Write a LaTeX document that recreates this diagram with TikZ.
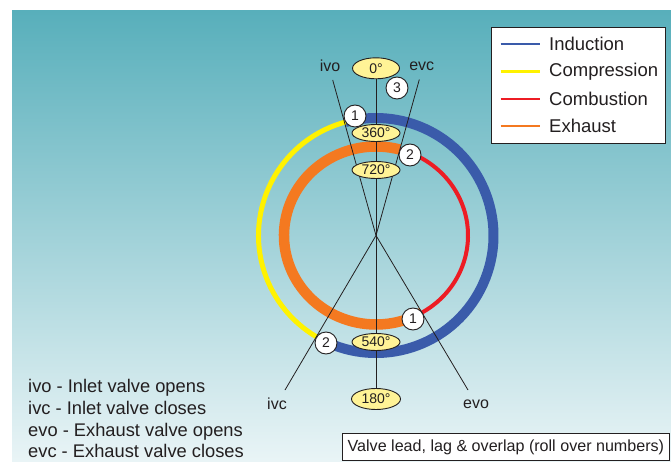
\documentclass[tikz,border=0pt]{standalone}
\usepackage{fontspec}
\setmainfont{Liberation Sans}
\usetikzlibrary{shapes.geometric,calc}
\definecolor{indblue}{RGB}{58,91,170}
\definecolor{compyellow}{RGB}{255,242,0}
\definecolor{combred}{RGB}{237,28,36}
\definecolor{exorange}{RGB}{244,121,32}
\definecolor{bgtop}{RGB}{88,175,187}
\definecolor{bgbot}{RGB}{233,244,246}
\definecolor{degfill}{RGB}{255,243,150}
\definecolor{txt}{RGB}{35,31,32}
\pgfdeclarelayer{bg}
\pgfsetlayers{bg,main}
\begin{document}
\begin{tikzpicture}[x=1pt,y=1pt,
  deg/.style={ellipse, draw=txt, line width=0.9pt, fill=degfill, inner sep=0pt,
    minimum width=48pt, minimum height=17pt, font=\fontsize{14}{14}\selectfont, text=txt},
  bigdeg/.style={deg, minimum width=47pt, minimum height=21pt},
  num/.style={circle, draw=txt, line width=0.9pt, fill=white, minimum size=22pt,
    inner sep=0pt, font=\fontsize{14}{14}\selectfont, text=txt},
  conn/.style={draw=txt, line width=0.8pt},
  lbl/.style={font=\fontsize{16}{16}\selectfont, text=txt, inner sep=0pt},
  legtxt/.style={anchor=west, font=\fontsize{18.5}{18.5}\selectfont, text=txt, inner sep=0pt},
  legline/.style={line width=2.7pt},
  note/.style={anchor=base west, font=\fontsize{18.3}{18.3}\selectfont, text=txt, inner sep=0pt}
]
\useasboundingbox (0,0) rectangle (671,461);

% centre and line end points
\coordinate (c) at (376,225.5);
\coordinate (ivoend) at (332.7,381);
\coordinate (evcend) at (419.3,381.5);
\coordinate (ivcend) at (285,71);
\coordinate (evoend) at (468,71);

% degree ellipses
\node[bigdeg] (d0) at (376,392.7) {0°};
\node[deg] (d360) at (376,328) {360°};
\node[deg] (d720) at (376,291) {720°};
\node[deg] (d540) at (376,119) {540°};
\node[bigdeg, minimum width=49pt] (d180) at (376,62) {180°};

% numbered circles
\node[num] (n1a) at (355,345) {1};
\node[num] (n2a) at (410,306) {2};
\node[num] (n3) at (397,373) {3};
\node[num] (n1b) at (413,142) {1};
\node[num] (n2b) at (326,118) {2};

% valve labels
\node[lbl] (ivo) at (330,395) {ivo};
\node[lbl] (evc) at (421.7,395) {evc};
\node[lbl] (ivc) at (277,57) {ivc};
\node[lbl] (evo) at (476,57) {evo};

% legend
\node[draw=txt, line width=0.8pt, fill=white, minimum width=174pt, minimum height=116.3pt,
  inner sep=0pt, anchor=north west] (legend) at (491,434.3) {};
\node[legtxt] (lind) at (549,417) {Induction};
\node[legtxt] (lcomp) at (549,389.3) {Compression};
\node[legtxt] (lcomb) at (549,362) {Combustion};
\node[legtxt] (lexh) at (549,335) {Exhaust};
\draw[legline, indblue] (500.7,417) -- (540,417);
\draw[legline, compyellow] (500.7,389.3) -- (540,389.3);
\draw[legline, combred] (500.7,362) -- (540,362);
\draw[legline, exorange] (500.7,335) -- (540,335);

% abbreviations
\node[note] (t1) at (28,69) {ivo - Inlet valve opens};
\node[note] (t2) at (28,47) {ivc - Inlet valve closes};
\node[note] (t3) at (28,25) {evo - Exhaust valve opens};
\node[note] (t4) at (28,4) {evc - Exhaust valve closes};

% caption box
\node[draw=txt, line width=0.8pt, fill=white, minimum width=327pt, minimum height=26.5pt,
  inner sep=0pt, anchor=south west, font=\fontsize{16.1}{16.1}\selectfont, text=txt]
  (cap) at (342,0.5) {Valve lead, lag \& overlap (roll over numbers)};

\begin{pgfonlayer}{bg}
  \shade[top color=bgtop, bottom color=bgbot] (12,0) rectangle (671,450);
  % outer ring
  \draw[indblue, line width=10pt] (c) ++(240:117.5) arc[start angle=240, end angle=465, radius=117.5];
  \draw[compyellow, line width=5pt] (c) ++(105:117.5) arc[start angle=105, end angle=240, radius=117.5];
  % inner ring
  \draw[exorange, line width=10.5pt] ($(c)+(75:92 and 89)$) arc[start angle=75, end angle=300, x radius=92, y radius=89];
  \draw[combred, line width=4pt] ($(c)+(-60:92 and 89)$) arc[start angle=-60, end angle=75, x radius=92, y radius=89];
  % connectors
  \draw[conn] (d0) -- (d180);
  \draw[conn] (ivoend) -- (c);
  \draw[conn] (evcend) -- (c);
  \draw[conn] (c) -- (ivcend);
  \draw[conn] (c) -- (evoend);
\end{pgfonlayer}
\end{tikzpicture}
\end{document}
